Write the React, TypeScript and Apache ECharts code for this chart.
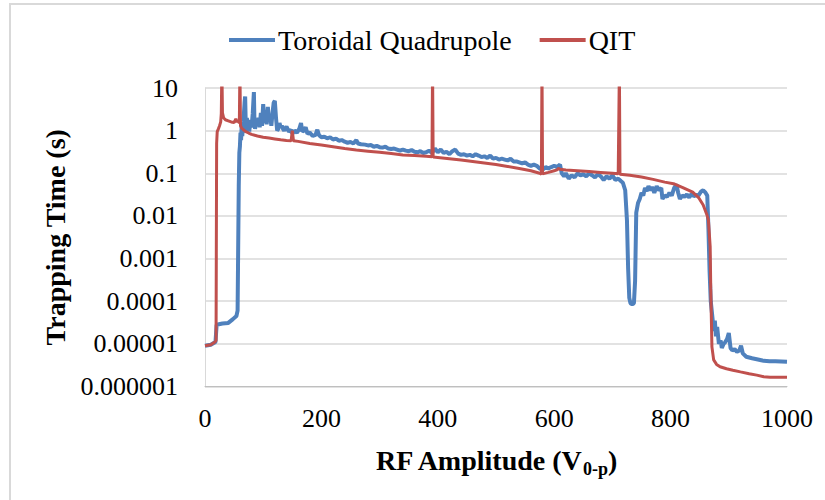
import React, { useEffect, useRef } from "react";
import * as echarts from "echarts";

const seriesNames = ["Toroidal Quadrupole", "QIT"];
const seriesColors = ["#4F81BD", "#C0504D"];
const yTickLabels = ["0.000001", "0.00001", "0.0001", "0.001", "0.01", "0.1", "1", "10"];

// [RF amplitude (V0-p), trapping time (s)]
const toroidalQuadrupole: [number, number][] = [
  [0, 9e-6], [10, 9.5e-6], [18, 1.1e-5], [20, 2.8e-5], [30, 3.0e-5], [40, 3.1e-5], [48, 3.8e-5],
  [54, 4.5e-5], [56, 6e-5], [58, 0.05], [59, 0.3], [60, 0.43], [61, 0.9], [62, 0.6], [63, 1.3],
  [64, 0.75], [66, 1.6], [68, 4.5], [69, 6.3], [70, 1.4], [71, 0.9], [72, 2.0], [73, 1.1],
  [75, 1.8], [76, 0.95], [78, 1.6], [80, 1.2], [82, 2.5], [84, 8.0], [85, 1.5], [86, 1.1],
  [88, 1.6], [90, 1.3], [92, 2.0], [94, 1.2], [96, 2.6], [98, 1.3], [100, 4.2], [102, 1.5],
  [104, 2.8], [106, 1.4], [108, 3.6], [110, 1.6], [112, 2.2], [114, 1.3], [116, 2.6], [118, 4.5],
  [120, 5.0], [122, 2.0], [124, 1.0], [126, 1.1], [128, 1.5], [130, 1.2], [132, 1.3], [134, 1.1],
  [136, 1.0], [140, 1.25], [144, 0.95], [148, 1.05], [150, 0.85], [154, 1.0], [158, 0.9], [162, 1.1],
  [165, 1.5], [167, 0.95], [170, 1.0], [173, 1.2], [176, 0.85], [180, 0.9], [185, 0.75], [190, 0.8],
  [193, 1.05], [196, 0.78], [200, 0.7], [205, 0.72], [210, 0.66], [215, 0.7], [220, 0.62], [225, 0.65],
  [230, 0.58], [235, 0.6], [240, 0.55], [245, 0.52], [250, 0.54], [255, 0.5], [260, 0.6], [263, 0.5],
  [268, 0.48], [275, 0.47], [280, 0.45], [285, 0.46], [290, 0.42], [295, 0.44], [300, 0.41], [305, 0.4],
  [310, 0.42], [315, 0.38], [320, 0.37], [325, 0.38], [330, 0.36], [335, 0.34], [340, 0.36], [345, 0.34],
  [350, 0.33], [355, 0.35], [360, 0.32], [365, 0.31], [370, 0.33], [375, 0.3], [380, 0.31], [385, 0.34],
  [390, 0.3], [395, 0.38], [400, 0.31], [405, 0.36], [410, 0.3], [415, 0.32], [420, 0.28], [425, 0.33],
  [430, 0.36], [435, 0.29], [440, 0.27], [445, 0.28], [450, 0.26], [455, 0.27], [460, 0.25], [465, 0.28],
  [470, 0.26], [475, 0.24], [480, 0.25], [485, 0.23], [490, 0.26], [495, 0.22], [500, 0.23], [505, 0.21],
  [510, 0.22], [515, 0.21], [520, 0.2], [525, 0.22], [530, 0.19], [535, 0.19], [540, 0.18], [545, 0.17],
  [550, 0.18], [555, 0.16], [560, 0.15], [565, 0.16], [570, 0.15], [575, 0.13], [580, 0.12], [585, 0.14],
  [590, 0.13], [595, 0.14], [600, 0.15], [605, 0.14], [610, 0.16], [613, 0.1], [617, 0.085], [620, 0.1],
  [625, 0.075], [630, 0.09], [635, 0.08], [640, 0.1], [645, 0.09], [650, 0.095], [655, 0.085], [660, 0.1],
  [665, 0.09], [670, 0.08], [675, 0.095], [680, 0.085], [685, 0.07], [690, 0.085], [695, 0.075], [700, 0.09],
  [705, 0.07], [710, 0.075], [715, 0.065], [718, 0.06], [722, 0.04], [725, 0.008], [727, 0.0006],
  [729, 0.00012], [731, 9e-5], [734, 8.5e-5], [737, 9e-5], [739, 0.0003], [741, 0.012], [744, 0.02],
  [747, 0.025], [750, 0.035], [753, 0.03], [756, 0.045], [759, 0.038], [762, 0.05], [765, 0.04],
  [768, 0.048], [772, 0.035], [776, 0.05], [780, 0.04], [784, 0.045], [786, 0.025], [790, 0.03],
  [794, 0.028], [798, 0.035], [802, 0.03], [806, 0.045], [810, 0.055], [813, 0.035], [816, 0.025],
  [820, 0.03], [824, 0.028], [828, 0.032], [832, 0.027], [836, 0.033], [840, 0.029], [844, 0.031],
  [848, 0.03], [852, 0.037], [856, 0.04], [860, 0.035], [863, 0.03], [865, 0.005], [867, 0.0005],
  [869, 0.0001], [872, 4e-5], [874, 2e-5], [876, 3.5e-5], [878, 1.5e-5], [880, 2.5e-5], [883, 1e-5],
  [886, 1.2e-5], [888, 8e-6], [891, 1e-5], [894, 1.1e-5], [897, 1.3e-5], [900, 1.8e-5], [903, 8e-6],
  [906, 7e-6], [910, 7.5e-6], [914, 6.5e-6], [918, 7e-6], [921, 9e-6], [924, 6e-6], [930, 5e-6],
  [940, 4.6e-6], [950, 4.3e-6], [960, 4e-6], [970, 3.9e-6], [980, 3.9e-6], [1000, 3.8e-6],
];

const qit: [number, number][] = [
  [0, 9e-6], [10, 9.5e-6], [17, 1.1e-5], [19, 1.2e-5], [20, 0.5], [21, 0.95], [23, 1.1], [25, 1.3],
  [27, 1.6], [28, 2.5], [29, 30], [30, 2.6], [32, 2.0], [35, 1.8], [40, 1.7], [45, 1.6], [50, 1.55],
  [53, 1.9], [55, 1.6], [57, 1.7], [59, 1.5], [60, 30], [61, 1.3], [63, 1.15], [66, 1.05], [70, 0.95],
  [75, 0.88], [80, 0.82], [90, 0.75], [100, 0.7], [110, 0.67], [120, 0.64], [130, 0.61], [140, 0.59],
  [148, 0.58], [150, 1.0], [152, 0.58], [160, 0.56], [180, 0.5], [200, 0.46], [220, 0.42], [240, 0.38],
  [260, 0.35], [280, 0.33], [300, 0.31], [320, 0.29], [340, 0.27], [360, 0.26], [380, 0.25], [390, 0.245],
  [391, 30], [392, 0.24], [400, 0.235], [420, 0.22], [440, 0.205], [460, 0.19], [480, 0.175], [500, 0.16],
  [520, 0.145], [540, 0.13], [560, 0.115], [575, 0.1], [578, 0.095], [579, 30], [580, 0.097], [590, 0.105],
  [600, 0.115], [605, 0.12], [607, 0.13], [610, 0.125], [620, 0.12], [640, 0.115], [660, 0.11], [680, 0.105],
  [700, 0.1], [710, 0.097], [712, 30], [713, 0.095], [730, 0.09], [750, 0.082], [770, 0.072], [790, 0.062],
  [805, 0.057], [820, 0.047], [838, 0.036], [848, 0.027], [856, 0.018], [862, 0.011], [865, 0.008],
  [868, 0.0019], [869, 0.0002], [871, 8.5e-6], [874, 4.2e-6], [879, 3.3e-6], [885, 2.9e-6], [896, 2.6e-6],
  [907, 2.4e-6], [920, 2.2e-6], [935, 2.0e-6], [948, 1.85e-6], [960, 1.7e-6], [971, 1.65e-6], [1000, 1.65e-6],
];

const FONT = "Liberation Serif";

export default function App() {
  const ref = useRef<HTMLDivElement>(null);
  useEffect(() => {
    if (!ref.current) return;
    const chart = echarts.init(ref.current, undefined, { renderer: "svg" });
    chart.setOption({
      animation: false,
      backgroundColor: "#ffffff",
      textStyle: { fontFamily: FONT, color: "#000" },
      graphic: [
        {
          type: "rect",
          silent: true,
          shape: { x: 10, y: 4, width: 840, height: 520 },
          style: { fill: "none", stroke: "#d9d9d9", lineWidth: 2 },
        },
      ],
      legend: {
        left: 224,
        top: 21,
        icon: "rect",
        itemWidth: 46,
        itemHeight: 4,
        itemGap: 28,
        textStyle: { fontFamily: FONT, fontSize: 28, color: "#000", padding: [0, 0, 0, -2] },
        data: seriesNames,
      },
      grid: { left: 205, right: 38, top: 88, bottom: 113.5, containLabel: false },
      xAxis: {
        type: "value",
        min: 0,
        max: 1000,
        interval: 200,
        axisLine: { show: true, lineStyle: { color: "#bfbfbf", width: 1 } },
        axisTick: { show: false },
        splitLine: { show: false },
        axisLabel: {
          fontFamily: FONT,
          fontSize: 26,
          color: "#000",
          margin: 19,
          formatter: (v: number) => String(v),
        },
        name: "{m|RF Amplitude (V}{s|0-p}{m|)}",
        nameLocation: "middle",
        nameGap: 57,
        nameTextStyle: {
          fontFamily: FONT,
          rich: {
            m: { fontFamily: FONT, fontSize: 28, fontWeight: "bold", color: "#000", lineHeight: 34 },
            s: { fontFamily: FONT, fontSize: 18, fontWeight: "bold", color: "#000", lineHeight: 18, verticalAlign: "bottom" },
          },
        },
      },
      yAxis: {
        type: "log",
        logBase: 10,
        min: 1e-6,
        max: 10,
        interval: 1,
        splitNumber: 7,
        axisLine: { show: true, lineStyle: { color: "#d9d9d9", width: 1 } },
        axisTick: { show: false },
        splitLine: { show: true, lineStyle: { color: "#d9d9d9", width: 1.5 } },
        axisLabel: {
          fontFamily: FONT,
          fontSize: 26,
          color: "#000",
          margin: 27,
          formatter: (v: number) => yTickLabels[Math.round(Math.log10(v)) + 6] ?? "",
        },
        name: "Trapping Time (s)",
        nameLocation: "middle",
        nameGap: 136,
        nameRotate: 90,
        nameTextStyle: { fontFamily: FONT, fontSize: 28, fontWeight: "bold", color: "#000" },
      },
      series: [
        {
          name: seriesNames[0],
          type: "line",
          data: toroidalQuadrupole,
          showSymbol: false,
          symbol: "none",
          color: seriesColors[0],
          lineStyle: { color: seriesColors[0], width: 4 },
          z: 2,
        },
        {
          name: seriesNames[1],
          type: "line",
          data: qit,
          showSymbol: false,
          symbol: "none",
          color: seriesColors[1],
          lineStyle: { color: seriesColors[1], width: 3 },
          z: 3,
        },
      ],
    });
    return () => chart.dispose();
  }, []);
  return (
    <div
      ref={ref}
      style={{ position: "fixed", left: 0, top: 0, width: 825, height: 500, background: "#fff" }}
    />
  );
}
